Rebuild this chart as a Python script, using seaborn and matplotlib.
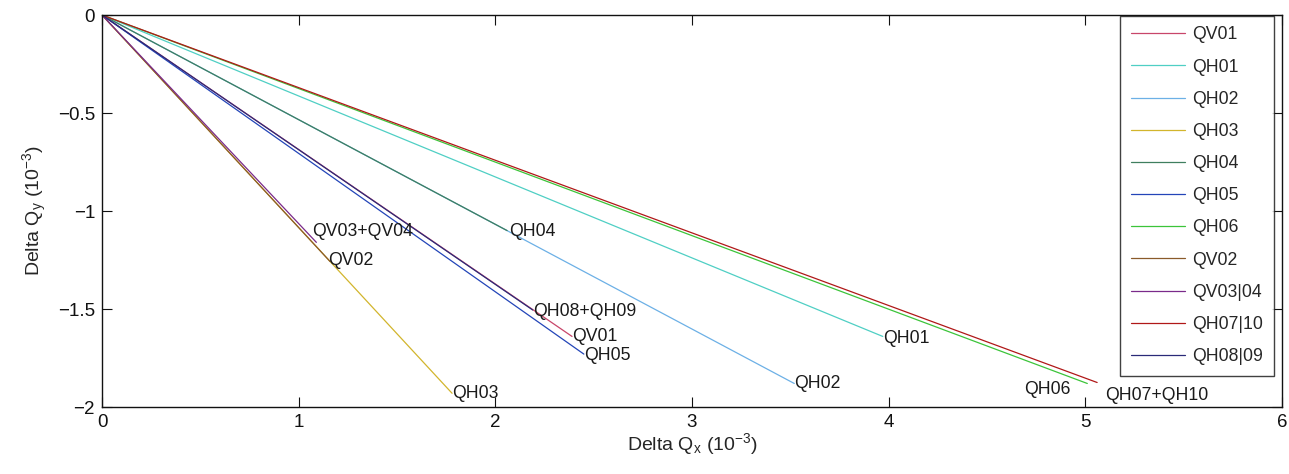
import pandas as pd
import seaborn as sns
import matplotlib.pyplot as plt

# ! DATOS ---------------------------------------------------------------------------------

series = ['QV01', 'QH01', 'QH02', 'QH03', 'QH04', 'QH05', 'QH06',
          'QV02', 'QV03|04', 'QH07|10', 'QH08|09']
dqx_fin = [2.39, 3.97, 3.52, 1.78, 2.06, 2.45, 5.01, 1.16, 1.09, 5.06, 2.19]
dqy_fin = [-1.64, -1.64, -1.88, -1.93, -1.10, -1.73, -1.88, -1.258, -1.16, -1.875, -1.505]
colores = ['#c8466a', '#4fcfc4', '#6cb0e6', '#d2b52c', '#3f7f5f', '#2345b8',
           '#3cc43a', '#8a5a2a', '#7a2a8a', '#b01818', '#2a2a78']

etiquetas = ['QV03+QV04', 'QV02', 'QH03', 'QH04', 'QH08+QH09', 'QV01', 'QH05',
             'QH02', 'QH01', 'QH06', 'QH07+QH10']
etiq_x = [1.07, 1.15, 1.78, 2.07, 2.19, 2.39, 2.45, 3.52, 3.97, 4.69, 5.10]
etiq_y = [-1.107, -1.255, -1.93, -1.107, -1.515, -1.64, -1.735, -1.88, -1.65, -1.91, -1.94]

# cada linea va del origen al punto final
filas = []
for s, x, y in zip(series, dqx_fin, dqy_fin):
    filas.append({'serie': s, 'dqx': 0.0, 'dqy': 0.0})
    filas.append({'serie': s, 'dqx': x, 'dqy': y})
datos = pd.DataFrame(filas)

# ! GRAFICO -------------------------------------------------------------------------------

sns.set_style('ticks')
plt.rcParams['font.family'] = ['Liberation Sans', 'DejaVu Sans']
plt.rcParams['mathtext.fontset'] = 'custom'
plt.rcParams['mathtext.rm'] = 'Liberation Sans'
plt.rcParams['mathtext.it'] = 'Liberation Sans'
plt.rcParams['mathtext.default'] = 'regular'

fig, ax = plt.subplots(figsize=(12.89, 4.74), dpi=100)
fig.subplots_adjust(left=102/1289, right=1282/1289, top=1-15/474, bottom=1-407/474)

sns.lineplot(data=datos, x='dqx', y='dqy', hue='serie', hue_order=series,
             palette=colores, sort=False, estimator=None, linewidth=0.9, ax=ax)

for t, x, y in zip(etiquetas, etiq_x, etiq_y):
    ax.text(x, y, t, ha='left', va='center', fontsize=12.7, color='#1a1a1a')

ax.set_xlim(0, 6)
ax.set_ylim(-2, 0)
ax.set_xticks([0, 1, 2, 3, 4, 5, 6])
ax.set_yticks([-2, -1.5, -1, -0.5, 0])
ax.set_yticklabels(['\u22122', '\u22121.5', '\u22121', '\u22120.5', '0'])
ax.tick_params(direction='in', length=7, width=0.8, top=True, right=True,
               labelsize=13.5, colors='#111111', pad=5)
for sp in ax.spines.values():
    sp.set_linewidth(1.0)
    sp.set_color('#111111')

ax.set_xlabel('Delta Q$_x$ (10$^{-3}$)', fontsize=14, labelpad=0)
ax.set_ylabel('Delta Q$_y$ (10$^{-3}$)', fontsize=14, labelpad=6)

leg = ax.legend(loc='upper right', bbox_to_anchor=(0.993, 0.998), borderaxespad=0,
                fontsize=12.7, handlelength=3.1, handletextpad=0.4, labelspacing=0.86,
                borderpad=0.6, frameon=True, fancybox=False, title=None)
leg.get_frame().set_edgecolor('#111111')
leg.get_frame().set_linewidth(1.0)

plt.savefig('out.png', dpi=100)
